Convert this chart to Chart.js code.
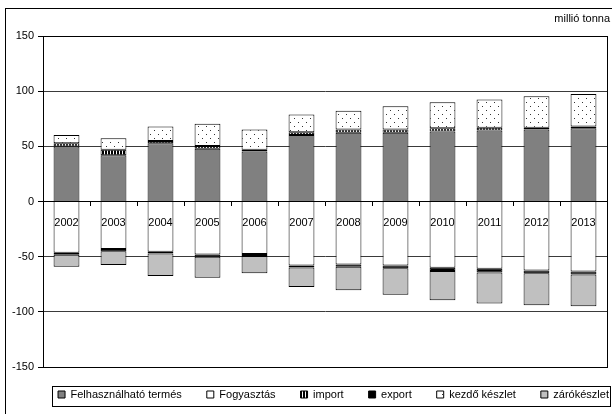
<!DOCTYPE html>
<html>
<head>
<meta charset="utf-8">
<script src="https://cdn.jsdelivr.net/npm/chart.js@4.4.1/dist/chart.umd.min.js"></script>
<style>
  body { margin: 0; background: #fff; }
  #wrap { width: 612px; height: 414px; }
</style>
</head>
<body>
<div id="wrap"><canvas id="cropChart"></canvas></div>
<script>
const years = ["2002", "2003", "2004", "2005", "2006", "2007", "2008", "2009", "2010", "2011", "2012", "2013"];
const termes = [50, 42, 53, 48, 45.5, 60.5, 62.5, 62.5, 63.5, 64.5, 65.5, 66.5];
const importData = [3, 5, 2, 2.5, 1.5, 2.5, 3, 3, 3, 2.5, 1.5, 1.5];
const kezdo = [7.5, 10.5, 13, 20, 18.5, 16, 17, 21, 23.5, 25.5, 28.5, 29.5];
const fogyasztas = [-46.5, -43, -45.5, -48, -47.5, -58, -57, -58, -60, -61, -62.5, -63.5];
const exportData = [-1.8, -2, -1.5, -2, -1.8, -1.8, -2, -2.4, -3, -3.3, -2.4, -2.7];
const zaro = [-10.7, -12.5, -20.5, -19, -15.7, -17.7, -21.5, -24.1, -26.5, -28.2, -29.1, -28.8];
const yTicks = [150, 100, 50, 0, -50, -100, -150];

const FONT = "'Liberation Sans', Arial, sans-serif";
const LEGEND_PAD = 25;

// striped fill for import
function stripePattern() {
  const c = document.createElement("canvas");
  c.width = 3; c.height = 3;
  const g = c.getContext("2d");
  g.fillStyle = "#fff"; g.fillRect(0, 0, 3, 3);
  g.fillStyle = "#000"; g.fillRect(0, 0, 2, 3);
  return g.createPattern(c, "repeat");
}
// dotted fill for kezdő készlet
function dotPattern() {
  const c = document.createElement("canvas");
  c.width = 8; c.height = 8;
  const g = c.getContext("2d");
  g.fillStyle = "#fff"; g.fillRect(0, 0, 8, 8);
  g.fillStyle = "#333";
  g.fillRect(2, 2, 1, 1);
  g.fillRect(6, 6, 1, 1);
  return g.createPattern(c, "repeat");
}

function ds(label, data, bg, skip) {
  return {
    label: label, data: data, backgroundColor: bg,
    borderColor: "#000", borderWidth: 1, borderSkipped: skip,
    barPercentage: 0.55, categoryPercentage: 1
  };
}

// nudge legend and title, then draw frames: outer box, plot area, legend box
const framePlugin = {
  id: "frames",
  afterLayout(chart) {
    const lg = chart.legend;
    lg.left += 30; lg.right += 30;
    lg.top -= 3; lg.bottom -= 3;
    const t = chart.titleBlock;
    t.left += 3; t.right += 3;
  },
  afterDraw(chart) {
    const ctx = chart.ctx;
    const a = chart.chartArea;
    ctx.save();
    ctx.strokeStyle = "#000";
    ctx.lineWidth = 1;
    ctx.strokeRect(5.5, 8.5, chart.width + 10, chart.height + 10);
    ctx.strokeRect(Math.round(a.left) + 0.5, Math.round(a.top) + 0.5, Math.round(a.right - a.left), Math.round(a.bottom - a.top));
    const cy = Math.round(chart.legend.top + LEGEND_PAD + 6.6);
    ctx.strokeRect(Math.round(a.left) + 9.5, cy - 9.5, Math.round(chart.width - a.left) - 11, 20);
    ctx.restore();
  }
};

const ctx = document.getElementById("cropChart").getContext("2d");
new Chart(ctx, {
  type: "bar",
  data: {
    labels: years,
    datasets: [
      ds("Felhasználható termés", termes, "#808080", "start"),
      ds("Fogyasztás", fogyasztas, "#ffffff", "start"),
      ds("import", importData, stripePattern(), false),
      ds("export", exportData, "#000000", false),
      ds("kezdő készlet", kezdo, dotPattern(), false),
      ds("zárókészlet", zaro, "#c0c0c0", false)
    ]
  },
  options: {
    responsive: true,
    maintainAspectRatio: false,
    animation: false,
    layout: { padding: { left: 0, right: 5, top: 0, bottom: 1 } },
    scales: {
      x: {
        stacked: true,
        position: { y: 0 },
        offset: true,
        grid: { drawOnChartArea: false, offset: true, tickLength: 4, color: "#000", z: 1 },
        border: { display: true, color: "#000", z: 1 },
        ticks: { color: "#000", font: { family: FONT, size: 11 }, padding: 11, maxRotation: 0, z: 1 }
      },
      y: {
        stacked: true,
        min: -150,
        max: 150,
        afterFit(scale) { scale.width = 43; },
        afterBuildTicks(scale) { scale.ticks = yTicks.map(v => ({ value: v })); },
        grid: { color: "#3a3a3a", tickLength: 5, tickColor: "#000" },
        border: { display: true, color: "#000" },
        ticks: { color: "#000", font: { family: FONT, size: 11 }, padding: 4 }
      }
    },
    plugins: {
      title: {
        display: true,
        text: "millió tonna",
        align: "end",
        color: "#000",
        font: { family: FONT, size: 11, weight: "normal" },
        padding: { top: 12, bottom: 11 }
      },
      legend: {
        position: "bottom",
        labels: {
          boxWidth: 7,
          boxHeight: 7,
          padding: LEGEND_PAD,
          color: "#000",
          font: { family: FONT, size: 11 }
        }
      },
      tooltip: { enabled: false }
    }
  },
  plugins: [framePlugin]
});
</script>
</body>
</html>
